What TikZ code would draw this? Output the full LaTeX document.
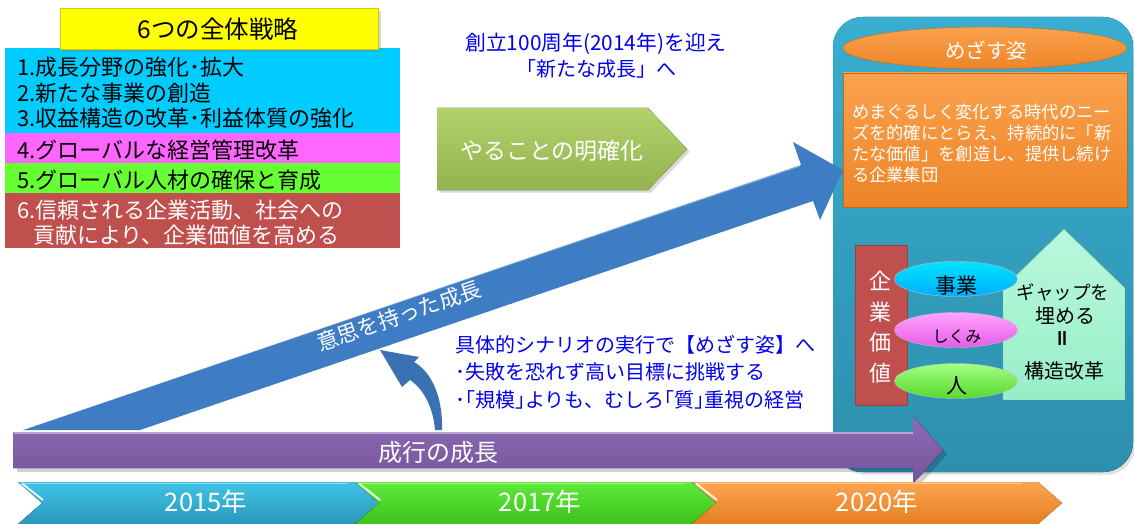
\documentclass[tikz,border=0pt]{standalone}
\usepackage{fontspec}
\setmainfont{Noto Sans CJK JP}
\usetikzlibrary{shapes.geometric,shadows}
\definecolor{cBoxCyan}{HTML}{00CCFF}
\definecolor{cBoxMag}{HTML}{FF66FF}
\definecolor{cBoxGrn}{HTML}{66FF33}
\definecolor{cBoxRed}{HTML}{C0504D}
\definecolor{cYellow}{HTML}{FFFF00}
\definecolor{cBlueTxt}{HTML}{0000EE}
\definecolor{cOliveT}{HTML}{B3D26C}
\definecolor{cOliveB}{HTML}{93B350}
\definecolor{cArrow}{HTML}{3E7CC4}
\definecolor{cArrowD}{HTML}{3A71B4}
\definecolor{cPurpT}{HTML}{8D6BB5}
\definecolor{cPurpB}{HTML}{74549A}
\definecolor{cPanelT}{HTML}{38AED0}
\definecolor{cPanelB}{HTML}{2D8FAD}
\definecolor{cOrgT}{HTML}{FAA24F}
\definecolor{cOrgB}{HTML}{EE8426}
\definecolor{cMintT}{HTML}{B8F8DC}
\definecolor{cMintB}{HTML}{98EEC8}
\definecolor{cTlCyanT}{HTML}{40C3E6}
\definecolor{cTlCyanB}{HTML}{2A98BC}
\definecolor{cTlGrnT}{HTML}{60EA3C}
\definecolor{cTlGrnB}{HTML}{3CC21C}
\definecolor{cTlOrgT}{HTML}{FBA552}
\definecolor{cTlOrgB}{HTML}{E57E1E}
\newcommand\myfs[2]{\fontsize{#1}{#2}\selectfont}
\begin{document}
\begin{tikzpicture}[x=1pt,y=-1pt,
  lbl/.style={inner sep=0pt,outer sep=0pt},
  stripbox/.style={anchor=north west,inner sep=0pt,outer sep=0pt},
  listtxt/.style={lbl,anchor=base west,font=\myfs{22}{25}},
  bluetxt/.style={lbl,text=cBlueTxt,font=\myfs{20}{25}},
  whitetxt/.style={lbl,text=white},
  ovalbox/.style={ellipse,inner sep=0pt,minimum width=123pt,minimum height=35pt,draw=black!25,line width=0.4pt},
  yeartxt/.style={lbl,anchor=base,text=white,font=\myfs{25.5}{27}}
]
\useasboundingbox (0,0) rectangle (1134,524);

% ---------- right panel ----------
\fill[top color=cPanelT,bottom color=cPanelB,rounded corners=30pt,drop shadow={opacity=0.25}]
  (833,17) rectangle (1133,472);
\node[ellipse,minimum width=284pt,minimum height=42pt,inner sep=0pt,
  top color=cOrgT,bottom color=cOrgB,draw=cOrgB!80!black,line width=0.4pt] (goalhead) at (985,48) {};
\node[stripbox,minimum width=284pt,minimum height=134pt,
  top color=cOrgT,bottom color=cOrgB,draw=cOrgB!80!black,line width=0.4pt] (goalbox) at (843,73) {};
\node[whitetxt,anchor=base,font=\myfs{20.5}{22}] (goalttl) at (986,58.5) {めざす姿};
\node[whitetxt,anchor=base west,font=\myfs{17.3}{20}] (g1) at (852,118) {めまぐるしく変化する時代のニー};
\node[whitetxt,anchor=base west,font=\myfs{17.3}{20}] (g2) at (852,139.3) {ズを的確にとらえ、持続的に「新};
\node[whitetxt,anchor=base west,font=\myfs{17.3}{20}] (g3) at (852,160.5) {たな価値」を創造し、提供し続け};
\node[whitetxt,anchor=base west,font=\myfs{17.3}{20}] (g4) at (852,181.7) {る企業集団};

\node[stripbox,minimum width=52pt,minimum height=160pt,fill=cBoxRed,draw=cBoxRed!80!black,line width=0.4pt] (valbox) at (855,245) {};
\fill[top color=cMintT,bottom color=cMintB,draw=cMintB!80!black,line width=0.4pt]
  (1003,400) -- (1003,288) -- (1064,229) -- (1125,288) -- (1125,400) -- cycle;
\node[ovalbox,top color=cyan!45!cBoxCyan,bottom color=cBoxCyan!85!blue] (ovA) at (956,279) {};
\node[ovalbox,top color=cBoxMag!60!white,bottom color=cBoxMag!90!black] (ovB) at (956,330) {};
\node[ovalbox,top color=cBoxGrn!60!white,bottom color=cBoxGrn!85!black] (ovC) at (956,381) {};

\node[whitetxt,anchor=base,font=\myfs{22}{22}] (v1) at (880,289.4) {企};
\node[whitetxt,anchor=base,font=\myfs{22}{22}] (v2) at (880,320.4) {業};
\node[whitetxt,anchor=base,font=\myfs{22}{22}] (v3) at (880,350.9) {価};
\node[whitetxt,anchor=base,font=\myfs{22}{22}] (v4) at (880,381.4) {値};

\node[lbl,anchor=base,font=\myfs{21}{22}] (tA) at (956,293) {事業};
\node[lbl,anchor=base,font=\myfs{16}{18}] (tB) at (957,342) {しくみ};
\node[lbl,anchor=base,font=\myfs{21}{22}] (tC) at (957,393) {人};

\node[lbl,anchor=base,font=\myfs{18.5}{20}] (h1) at (1063,299) {ギャップを};
\node[lbl,anchor=base,font=\myfs{20}{20}] (h2) at (1065,323) {埋める};
\node[lbl,font=\myfs{20}{20}\bfseries,rotate=90] (h3) at (1065,338) {＝};
\node[lbl,anchor=base,font=\myfs{20}{20}] (h4) at (1064,378) {構造改革};

% ---------- big blue arrow ----------
\fill[cArrow] (23,430) -- (801,165) -- (793,142) -- (843,170) -- (820,220) -- (813,201) -- (140,430) -- cycle;
\draw[white,opacity=0.35,line width=1pt] (25,429) -- (800,166);
\node[whitetxt,rotate=18.8,font=\myfs{21.5}{22}] (willtxt) at (399,316) {意思を持った成長};

% ---------- purple arrow ----------
\fill[black,opacity=0.18] (17,436) -- (917,436) -- (917,421) -- (947,454) -- (917,488) -- (917,472) -- (17,472) -- cycle;
\fill[top color=cPurpT,bottom color=cPurpB] (13,432) -- (913,432) -- (913,416) -- (943,450) -- (913,484) -- (913,468) -- (13,468) -- cycle;
\draw[cPurpT!60!white,line width=1.5pt] (14,433) -- (913,433);
\node[whitetxt,anchor=base,font=\myfs{24}{25}] (natural) at (438,461) {成行の成長};

% ---------- curved arrow ----------
\fill[cArrowD] (435,430) .. controls (433,405) and (422,388) .. (410,380) -- (402,387) -- (380,350)
  -- (419,357) -- (414,362) .. controls (432,372) and (443,398) .. (442,430) -- cycle;

% ---------- blue texts ----------
\node[bluetxt,anchor=base,font=\myfs{20.8}{25}] (anniv1) at (596,50.6) {創立100周年(2014年)を迎え};
\node[bluetxt,anchor=base,font=\myfs{20}{25}] (anniv2) at (596,76.6) {「新たな成長」へ};
\node[bluetxt,anchor=base west] (sc1) at (455,352.6) {具体的シナリオの実行で【めざす姿】へ};
\node[bluetxt,anchor=base west] (sc2) at (455,379.6) {･失敗を恐れず高い目標に挑戦する};
\node[bluetxt,anchor=base west] (sc3) at (455,407.6) {･｢規模｣よりも、むしろ｢質｣重視の経営};

% ---------- clarify pentagon ----------
\fill[top color=cOliveT,bottom color=cOliveB,drop shadow={opacity=0.3}]
  (437,108) -- (648,108) -- (687,149) -- (648,190) -- (437,190) -- cycle;
\node[whitetxt,anchor=base,font=\myfs{23}{25}] (clarify) at (552,159.7) {やることの明確化};

% ---------- left strategy list ----------
\node[stripbox,fill=cBoxCyan,minimum width=395pt,minimum height=85pt] (bxA) at (5,48) {};
\node[stripbox,fill=cBoxMag,minimum width=395pt,minimum height=30pt] (bxB) at (5,133) {};
\node[stripbox,fill=cBoxGrn,minimum width=395pt,minimum height=30pt] (bxC) at (5,163) {};
\node[stripbox,fill=cBoxRed,minimum width=395pt,minimum height=55pt] (bxD) at (5,193) {};
\node[minimum width=318pt,minimum height=41pt,inner sep=0pt,fill=cYellow,draw=cYellow!80!black,line width=0.5pt,
  drop shadow={opacity=0.3}] (title) at (219,28.5) {};
\node[lbl,anchor=base,font=\myfs{24.5}{25}] (titletxt) at (218,39) {6つの全体戦略};
\node[listtxt] (l1) at (17,75.5) {1.成長分野の強化･拡大};
\node[listtxt] (l2) at (17,101.5) {2.新たな事業の創造};
\node[listtxt] (l3) at (17,126.5) {3.収益構造の改革･利益体質の強化};
\node[listtxt] (l4) at (17,158.5) {4.グローバルな経営管理改革};
\node[listtxt] (l5) at (17,188.5) {5.グローバル人材の確保と育成};
\node[listtxt,text=white] (l6) at (17,218.5) {6.信頼される企業活動、社会への};
\node[listtxt,text=white] (l7) at (33,243) {貢献により、企業価値を高める};

% ---------- timeline ----------
\fill[top color=cTlCyanT,bottom color=cTlCyanB] (18,482) -- (355,482) -- (379,503) -- (355,524) -- (18,524) -- (42,503) -- cycle;
\fill[top color=cTlGrnT,bottom color=cTlGrnB] (355,482) -- (692,482) -- (716,503) -- (692,524) -- (355,524) -- (379,503) -- cycle;
\fill[top color=cTlOrgT,bottom color=cTlOrgB] (692,482) -- (1038,482) -- (1062,503) -- (1038,524) -- (692,524) -- (716,503) -- cycle;
\foreach \xx in {18,355,692}{
  \draw[white,line width=2pt,opacity=0.85] (\xx+4,483.5) -- (\xx+25,500);
  \draw[white,line width=1pt,opacity=0.4] (\xx+6,483.5) -- (\xx+330,483.5);
}
\node[yeartxt] (y1) at (206,511.5) {2015年};
\node[yeartxt] (y2) at (540,511.5) {2017年};
\node[yeartxt] (y3) at (877,511) {2020年};
\end{tikzpicture}
\end{document}
